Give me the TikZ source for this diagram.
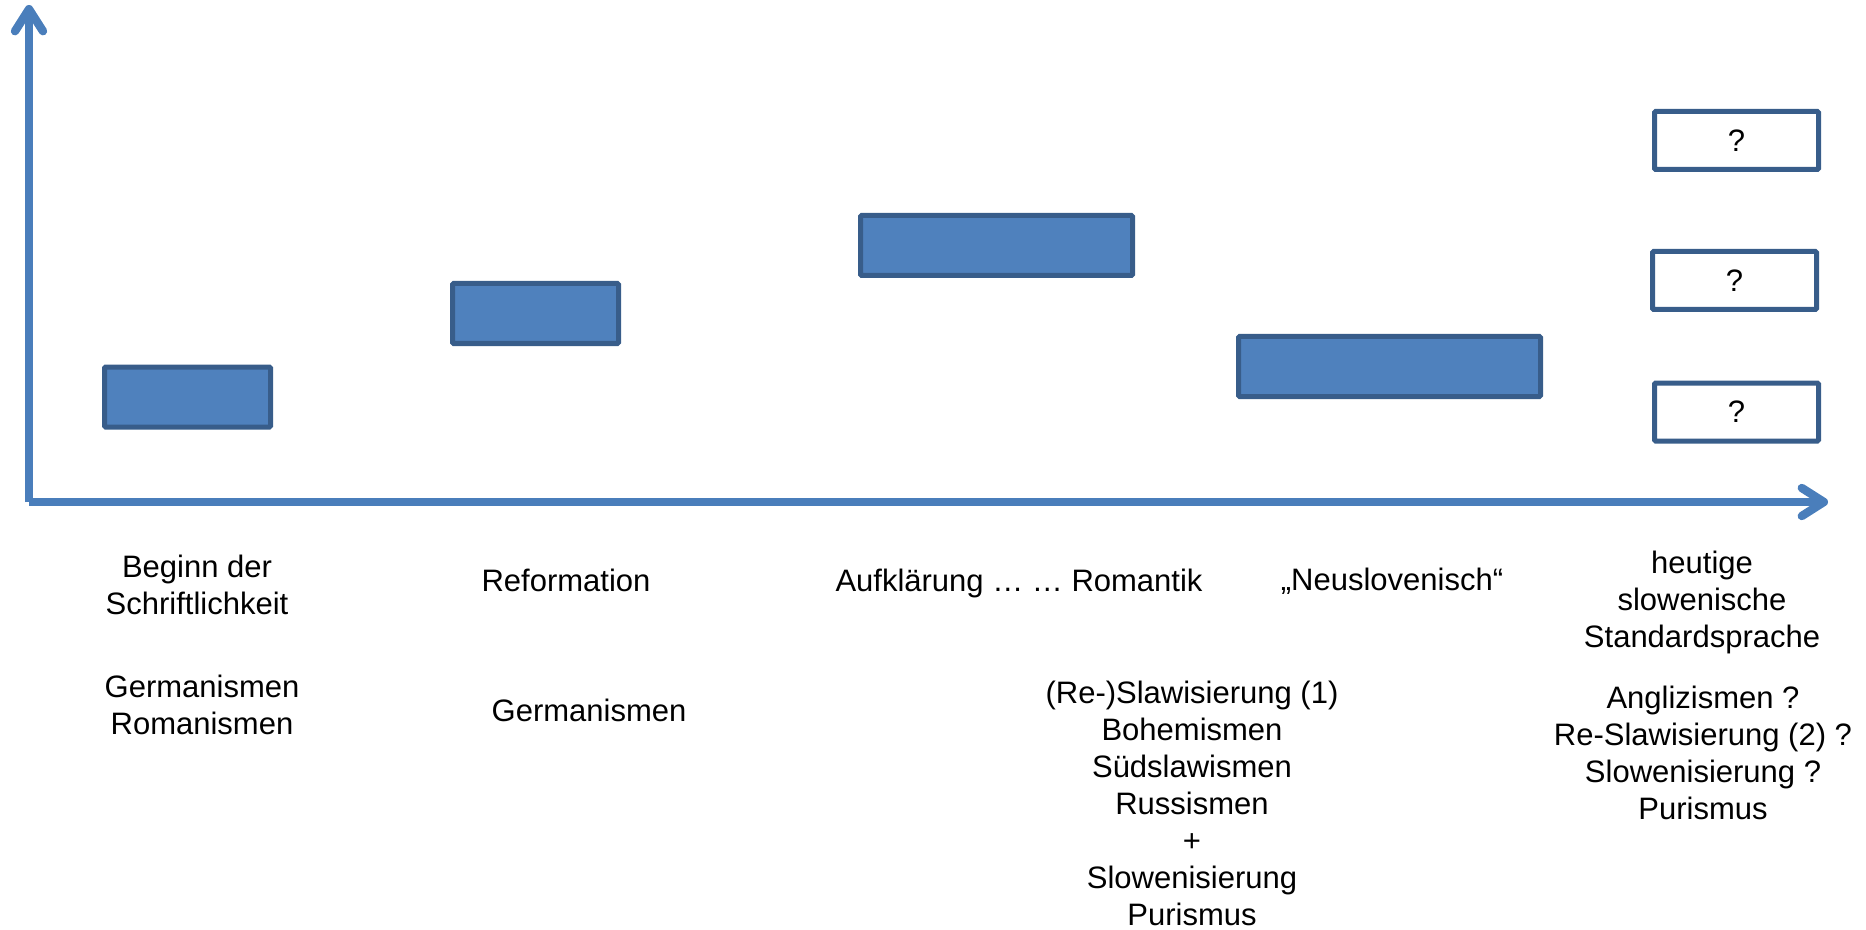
\documentclass[tikz,border=0pt]{standalone}
\usepackage{fontspec}
\setmainfont{Liberation Sans}
\usetikzlibrary{arrows.meta,positioning}

\definecolor{axisblue}{HTML}{4A7EBB}
\definecolor{barfill}{HTML}{4F81BD}
\definecolor{barline}{HTML}{385D8A}

\tikzset{
    axisline/.style={draw=axisblue,line width=4.2pt,-{Straight Barb[length=11pt,width=14pt,round]}},
    phasebar/.style={draw=barline,fill=barfill,line width=2.5pt,rounded corners=0.6pt,inner sep=0pt,minimum height=30pt},
    openbar/.style={draw=barline,fill=white,line width=2.5pt,rounded corners=0.6pt,inner sep=0pt,minimum width=82pt,minimum height=29pt,font=\fontsize{15.5}{18.5}\selectfont},
    periodtxt/.style={align=center,font=\fontsize{15.5}{18.5}\selectfont}
}

\begin{document}
\begin{tikzpicture}[x=0.5pt,y=-0.5pt]

\useasboundingbox (0,0) rectangle (1866,930);

\def\axisy{502}
\def\axisx{29}

\coordinate (origin) at (\axisx,\axisy);
\coordinate (ytip) at (\axisx,5);
\coordinate (xtip) at (1828,\axisy);

\draw [axisline] (origin) -- (ytip);
\draw [axisline] (origin) -- (xtip);

\node (bar0) [phasebar,minimum width=83pt] at (187.5,397) {};
\node (bar1) [phasebar,minimum width=83pt] at (535.5,313.5) {};
\node (bar2) [phasebar,minimum width=136pt] at (996.5,245.5) {};
\node (bar3) [phasebar,minimum width=151pt] at (1389.5,366.5) {};

\node (open0) [openbar] at (1736.5,140.5) {?};
\node (open1) [openbar] at (1734.5,280.5) {?};
\node (open2) [openbar] at (1736.5,412) {?};

\node (beginntxt) [periodtxt] at (197,585) {Beginn der\\Schriftlichkeit};
\node (beginnloans) [periodtxt] at (202,705) {Germanismen\\Romanismen};

\node (reformtxt) [periodtxt] at (566,580) {Reformation};
\node (reformloans) [periodtxt] at (589,710) {Germanismen};

\node (aufktxt) [periodtxt] at (1019,583) {Aufklärung … … Romantik};
\node (neuslotxt) [periodtxt] at (1392,581) {„Neuslovenisch“};
\node (neusloloans) [periodtxt] at (1192,803) {(Re-)Slawisierung (1)\\Bohemismen\\Südslawismen\\Russismen\\+\\Slowenisierung\\Purismus};

\node (heutetxt) [periodtxt] at (1702,602) {heutige\\slowenische\\Standardsprache};
\node (heuteloans) [periodtxt] at (1703,753) {Anglizismen ?\\Re-Slawisierung (2) ?\\Slowenisierung ?\\Purismus};

\end{tikzpicture}
\end{document}
